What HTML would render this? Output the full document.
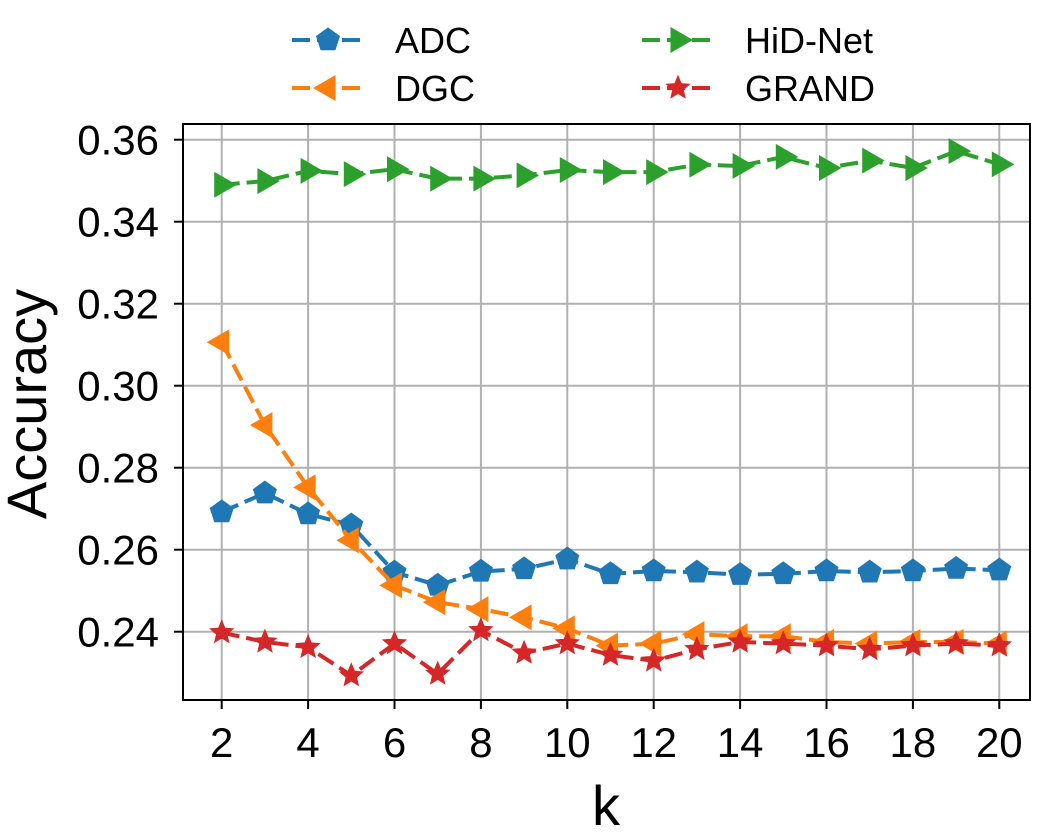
<!DOCTYPE html>
<html><head><meta charset="utf-8"><style>
body{margin:0;background:#fff;}
svg{display:block;font-family:"Liberation Sans",sans-serif;}
</style></head><body>
<svg id="chart" width="1048" height="834" viewBox="0 0 1048 834" xmlns="http://www.w3.org/2000/svg">
<g id="grid"></g>
<g id="axes"></g>
<g id="series"></g>
<g id="legend"></g>
<text x="606" y="825" font-size="56" text-anchor="middle">k</text>
<text transform="translate(46,404) rotate(-90)" font-size="56" text-anchor="middle">Accuracy</text>
</svg>
<script>
const ks=[2,3,4,5,6,7,8,9,10,11,12,13,14,15,16,17,18,19,20];
const adc=[0.2692,0.2738,0.2687,0.266,0.2545,0.2513,0.2547,0.2553,0.2577,0.2541,0.2548,0.2545,0.2539,0.2541,0.2548,0.2545,0.2548,0.2554,0.255];
const dgc=[0.3106,0.2904,0.2752,0.2623,0.2513,0.2472,0.2455,0.2435,0.2408,0.2366,0.2371,0.2394,0.2389,0.2389,0.2375,0.2371,0.2375,0.2375,0.2371];
const hid=[0.349,0.3499,0.3524,0.3516,0.3528,0.3505,0.3505,0.3513,0.3526,0.3521,0.3521,0.3539,0.3536,0.3558,0.3531,0.3549,0.3531,0.3572,0.354];
const grand=[0.2398,0.2375,0.2362,0.2293,0.2371,0.2297,0.2403,0.2348,0.2371,0.2343,0.2329,0.2357,0.2375,0.2371,0.2366,0.2357,0.2366,0.2371,0.2366];
const xTicks=[2,4,6,8,10,12,14,16,18,20];
const yTicks=[0.24,0.26,0.28,0.30,0.32,0.34,0.36];
const yTickLabels=["0.24","0.26","0.28","0.30","0.32","0.34","0.36"];
const NS="http://www.w3.org/2000/svg";
const L=183,R=1030,T=124,B=700;
const X=k=>221.7+(k-2)*43.2;
const Y=v=>631.7-(v-0.24)/0.02*82.0;
function mk(tag,attrs,parent){const e=document.createElementNS(NS,tag);for(const a in attrs)e.setAttribute(a,attrs[a]);parent.appendChild(e);return e;}
const grid=document.getElementById('grid'),axes=document.getElementById('axes'),ser=document.getElementById('series'),leg=document.getElementById('legend');
xTicks.forEach(k=>{
 const g=mk('line',{x1:X(k),x2:X(k),y1:T,y2:B,stroke:'#b0b0b0','stroke-width':2},grid);
 
 
 const t=mk('line',{x1:X(k),x2:X(k),y1:B,y2:B+9,stroke:'#000','stroke-width':2},axes);
 
 
 const l=mk('text',{x:X(k),y:757,'font-size':42,'text-anchor':'middle'},axes);l.textContent=k;
 
 
});
yTicks.forEach((v,i)=>{
 const g=mk('line',{x1:L,x2:R,y1:Y(v),y2:Y(v),stroke:'#b0b0b0','stroke-width':2},grid);
 
 
 const t=mk('line',{x1:L-9,x2:L,y1:Y(v),y2:Y(v),stroke:'#000','stroke-width':2},axes);
 
 
 const l=mk('text',{x:L-24,y:Y(v)+15,'font-size':42,'text-anchor':'end'},axes);l.textContent=yTickLabels[i];
 
 
});
const fr=mk('rect',{x:L,y:T,width:R-L,height:B-T,fill:'none',stroke:'#000','stroke-width':2},axes);


function poly(n,r,rot){let p=[];for(let i=0;i<n;i++){const a=rot+i*2*Math.PI/n;p.push((r*Math.cos(a)).toFixed(2)+','+(r*Math.sin(a)).toFixed(2));}return p.join(' ');}
function star(r){let p=[];for(let i=0;i<10;i++){const a=-Math.PI/2+i*Math.PI/5;const rr=i%2?r*0.45:r;p.push((rr*Math.cos(a)).toFixed(2)+','+(rr*Math.sin(a)).toFixed(2));}return p.join(' ');}
function shape(type){
 if(type==='pent')return poly(5,12,-Math.PI/2);
 if(type==='left')return poly(3,14,Math.PI);
 if(type==='right')return poly(3,14,0);
 return star(12);
}
function marker(parent,type,x,y,color,name){
 const m=mk('polygon',{points:shape(type),transform:`translate(${x},${y})`,fill:color,stroke:color,'stroke-width':1},parent);
 
 
}
const defs=[[adc,'#1f77b4','pent','adc'],[dgc,'#ff7f0e','left','dgc'],[hid,'#2ca02c','right','hid-net'],[grand,'#d62728','star','grand']];
defs.forEach(([d,c,t,n])=>{
 const g=mk('g',{},ser);
 
 
 const pl=mk('polyline',{points:ks.map((k,i)=>X(k)+','+Y(d[i])).join(' '),fill:'none',stroke:c,'stroke-width':4,'stroke-dasharray':'18,7'},g);
 
 
 ks.forEach((k,i)=>marker(g,t,X(k),Y(d[i]),c,n+'-point'));
});
const legItems=[['ADC','#1f77b4','pent',292,40],['DGC','#ff7f0e','left',292,88],['HiD-Net','#2ca02c','right',642,40],['GRAND','#d62728','star',642,88]];
legItems.forEach(([lab,c,t,x,y])=>{
 const g=mk('g',{},leg);
 
 
 mk('line',{x1:x,x2:x+72,y1:y,y2:y,stroke:c,'stroke-width':4,'stroke-dasharray':'18,7'},g);
 marker(g,t,x+36,y,c,'legend-marker');
 const tx=mk('text',{x:x+103,y:y+13,'font-size':36},g);tx.textContent=lab;
 
 
});
</script>
</body></html>
